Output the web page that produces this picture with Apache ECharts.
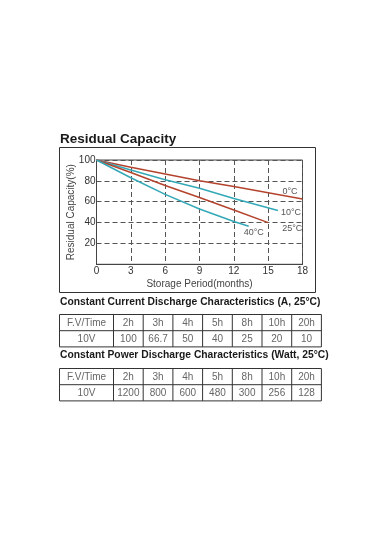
<!DOCTYPE html>
<html>
<head>
<meta charset="utf-8">
<script src="https://cdn.jsdelivr.net/npm/echarts@6/dist/echarts.min.js"></script>
<style>
html,body{margin:0;padding:0;background:#fff;}
#c{width:375px;height:535px;}
</style>
</head>
<body>
<div id="c"></div>
<script>
// ---- data ----
var months = [0, 3, 6, 9, 12, 15, 18];
var temp0 = [[0,100],[3,93],[6,86.5],[9,80],[12,74.5],[15,68.5],[18,62.5]];
var temp10 = [[0,100],[3,90.5],[6,81],[9,73],[12,63],[15.85,51.5]];
var temp25 = [[0,100],[3,88],[6,75.5],[9,64],[12,52],[15,40]];
var temp40 = [[0,100],[3,83],[6,67],[9,53],[12,41],[13.3,36.5]];
var seriesNames = ['0°C','10°C','25°C','40°C'];
var yTicks = [20, 40, 60, 80, 100];

var tableTimes = ['2h','3h','4h','5h','8h','10h','20h'];
var tableHeader = 'F.V/Time';
var tableRowLabel = '10V';
var currentValues = ['100','66.7','50','40','25','20','10'];
var powerValues = ['1200','800','600','480','300','256','128'];

var titleText = 'Residual Capacity';
var currentTitle = 'Constant Current Discharge Characteristics (A, 25°C)';
var powerTitle = 'Constant Power Discharge Characteristics (Watt, 25°C)';

// ---- chart ----
var FONT = 'Liberation Sans, Arial, sans-serif';
var RED = '#b4432e', TEAL = '#33a8b7';
var chart = echarts.init(document.getElementById('c'), null, {renderer:'canvas'});

function tableGraphics(top, values) {
  var els = [];
  var x0 = 59.5, firstW = 54, colW = 29.7, rowH = 16.2;
  var edges = [x0, x0 + firstW];
  for (var i = 0; i < tableTimes.length; i++) edges.push(x0 + firstW + colW * (i + 1));
  var right = edges[edges.length - 1];
  var ys = [top, top + rowH, top + 2 * rowH];
  var ls = {stroke:'#333', lineWidth:1};
  ys.forEach(function(y){
    els.push({type:'line', shape:{x1:x0, y1:y, x2:right, y2:y}, style:ls, silent:true});
  });
  edges.forEach(function(x){
    els.push({type:'line', shape:{x1:x, y1:ys[0], x2:x, y2:ys[2]}, style:ls, silent:true});
  });
  var rows = [[tableHeader].concat(tableTimes), [tableRowLabel].concat(values)];
  rows.forEach(function(row, r){
    row.forEach(function(txt, c){
      els.push({type:'text', x:(edges[c] + edges[c+1]) / 2, y:ys[r] + rowH / 2 + 0.5,
        style:{text:txt, fill:'#666', font:'10px ' + FONT, align:'center', verticalAlign:'middle'}, silent:true});
    });
  });
  return els;
}

function lineSeries(name, data, color, offset) {
  return {
    name: name, type:'line', data:data, symbol:'none', smooth:false,
    lineStyle:{color:color, width:1.5}, itemStyle:{color:color},
    z: 3,
    endLabel:{show:true, formatter:name, color:'#555', fontSize:9, fontFamily:FONT,
      distance:0, offset:offset}
  };
}

var graphics = [
  {type:'rect', shape:{x:59.5, y:147.5, width:256, height:145}, style:{fill:'none', stroke:'#333', lineWidth:1}, silent:true, z:-1},
  {type:'text', x:60, y:139, style:{text:titleText, fill:'#1a1a1a', font:'bold 13.5px ' + FONT, verticalAlign:'middle'}},
  {type:'text', x:60, y:302.5, style:{text:currentTitle, fill:'#1a1a1a', font:'bold 10.3px ' + FONT, verticalAlign:'middle'}},
  {type:'text', x:60, y:355.5, style:{text:powerTitle, fill:'#1a1a1a', font:'bold 10.3px ' + FONT, verticalAlign:'middle'}}
].concat(tableGraphics(314.5, currentValues)).concat(tableGraphics(368.5, powerValues));

var option = {
  backgroundColor:'#fff',
  animation:false,
  grid:{left:96.5, top:160, width:206, height:104.3, show:true, borderColor:'#444', borderWidth:1, backgroundColor:'transparent'},
  xAxis:{
    type:'value', min:0, max:18, interval:3,
    name:'Storage Period(months)', nameLocation:'middle', nameGap:15, nameMoveOverlap:false,
    nameTextStyle:{color:'#444', fontSize:10, fontFamily:FONT},
    axisLine:{show:true, lineStyle:{color:'#444'}},
    axisTick:{show:false},
    axisLabel:{color:'#333', fontSize:10, fontFamily:FONT, margin:2},
    splitLine:{show:true, lineStyle:{color:'#555', type:[5,3], width:1}}
  },
  yAxis:{
    type:'value', min:0, max:100, interval:20,
    name:'Residual Capacity(%)', nameLocation:'middle', nameGap:20, nameRotate:90, nameMoveOverlap:false,
    nameTextStyle:{color:'#444', fontSize:10, fontFamily:FONT},
    axisLine:{show:true, lineStyle:{color:'#444'}},
    axisTick:{show:false},
    axisLabel:{color:'#333', fontSize:10, fontFamily:FONT, margin:1,
      formatter:function(v){ return yTicks.indexOf(v) >= 0 ? String(v) : ''; }},
    splitLine:{show:true, lineStyle:{color:'#555', type:[5,3], width:1}}
  },
  series:[
    lineSeries(seriesNames[0], temp0, RED, [-20,-8]),
    lineSeries(seriesNames[1], temp10, TEAL, [3,2]),
    lineSeries(seriesNames[2], temp25, RED, [14,6]),
    lineSeries(seriesNames[3], temp40, TEAL, [-5,6])
  ],
  graphic:graphics
};
chart.setOption(option);
</script>
</body>
</html>
